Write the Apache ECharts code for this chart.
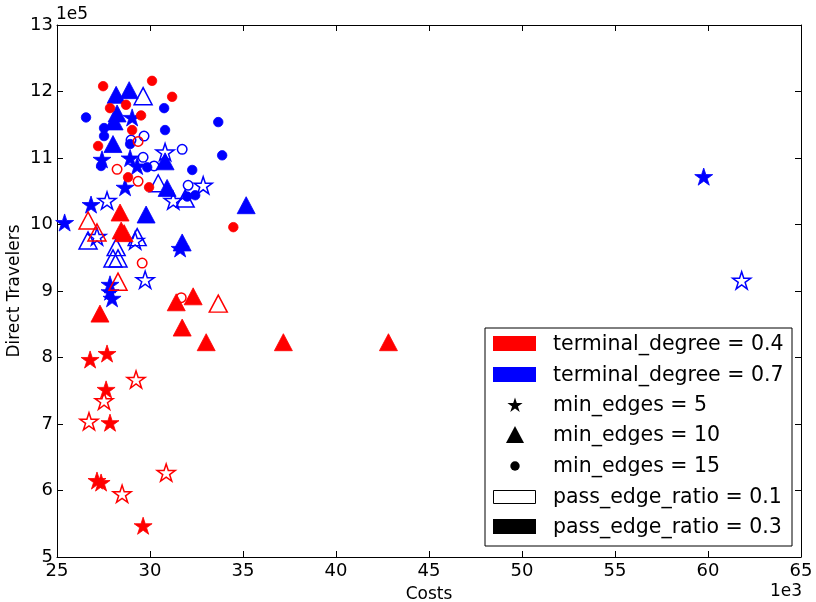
<!DOCTYPE html>
<html>
<head>
<meta charset="utf-8">
<script src="https://cdn.jsdelivr.net/npm/echarts@6/dist/echarts.min.js"></script>
<style>html,body{margin:0;padding:0;background:#fff}#c{width:816px;height:602px}</style>
</head>
<body>
<div id="c"></div>
<script>
// Costs (x, 1e3) and Direct Travelers (y, 1e5)
const red_star_filled = [[26.78,7.97],[27.69,8.06],[27.64,7.52],[27.85,7.02],[27.15,6.15],[27.37,6.12],[29.63,5.47]];
const red_star_hollow = [[29.25,7.67],[27.53,7.35],[26.72,7.04],[30.87,6.27],[28.50,5.95]];
const red_tri_filled = [[28.39,10.18],[28.45,9.91],[28.61,9.87],[27.31,8.66],[31.41,8.83],[32.32,8.92],[31.73,8.45],[33.02,8.23],[37.17,8.23],[42.82,8.23]];
const red_tri_hollow = [[26.67,10.06],[27.15,9.88],[28.28,9.14],[33.67,8.81]];
const red_circ_filled = [[27.48,12.08],[30.11,12.16],[31.19,11.92],[27.85,11.75],[28.71,11.80],[29.52,11.64],[29.04,11.42],[27.21,11.18],[28.82,10.71],[29.95,10.56],[34.48,9.96]];
const red_circ_hollow = [[29.36,11.25],[28.23,10.83],[29.36,10.65],[29.58,9.42],[31.68,8.90]];
const blue_star_filled = [[29.04,11.61],[27.42,10.98],[28.93,11.00],[29.31,10.88],[28.66,10.56],[26.83,10.30],[25.41,10.03],[27.85,9.10],[27.85,8.99],[27.96,8.89],[31.62,9.64],[59.77,10.72]];
const blue_star_hollow = [[30.81,11.09],[32.86,10.59],[31.25,10.36],[27.69,10.36],[29.74,9.17],[27.15,9.82],[29.20,9.76],[61.81,9.16]];
const blue_tri_filled = [[28.18,11.95],[28.88,12.02],[28.23,11.67],[28.07,11.55],[28.01,11.21],[30.81,10.95],[30.92,10.55],[29.79,10.15],[31.73,9.73],[35.17,10.29]];
const blue_tri_hollow = [[29.63,11.93],[30.44,10.62],[31.89,10.39],[26.67,9.76],[28.18,9.66],[28.01,9.49],[28.28,9.49],[29.31,9.81]];
const blue_circ_filled = [[26.56,11.61],[30.76,11.75],[33.67,11.54],[30.81,11.42],[27.53,11.45],[27.53,11.33],[28.93,11.21],[33.88,11.04],[27.37,10.88],[29.85,10.86],[32.27,10.82],[32.43,10.44],[32.00,10.42]];
const blue_circ_hollow = [[29.68,11.33],[28.98,11.27],[31.73,11.13],[29.63,11.01],[30.22,10.88],[32.05,10.59]];

const legendLabels = ['terminal_degree = 0.4','terminal_degree = 0.7','min_edges = 5','min_edges = 10','min_edges = 15','pass_edge_ratio = 0.1','pass_edge_ratio = 0.3'];

const FONT = '"DejaVu Sans"';
function starPts(cx, cy, R){
  let p = [];
  for (let i = 0; i < 10; i++) {
    const r = (i % 2 ? 0.381966 : 1) * R;
    const a = -Math.PI/2 + i*Math.PI/5;
    p.push([cx + r*Math.cos(a), cy + r*Math.sin(a)]);
  }
  return p;
}
const STAR = 'path://M' + starPts(0, 0, 100).map(q => q[0].toFixed(2) + ',' + q[1].toFixed(2)).join('L') + 'Z';
const shapes = {
  star: {symbol: STAR, size: 18},
  tri: {symbol: 'triangle', size: [18,17]},
  circ: {symbol: 'circle', size: 9.5}
};
function mk(data, color, shape, filled){
  return {
    type: 'scatter', data: data, symbol: shapes[shape].symbol, symbolSize: shapes[shape].size,
    symbolKeepAspect: true, silent: true, animation: false,
    itemStyle: filled ? {color: color, borderColor: color, borderWidth: 0.8, opacity: 1} : {color: 'rgba(0,0,0,0)', borderColor: color, borderWidth: 1.5, opacity: 1}
  };
}
const series = [
  mk(blue_circ_filled,'#0000ff','circ',true), mk(blue_circ_hollow,'#0000ff','circ',false),
  mk(blue_tri_filled,'#0000ff','tri',true), mk(blue_tri_hollow,'#0000ff','tri',false),
  mk(blue_star_filled,'#0000ff','star',true), mk(blue_star_hollow,'#0000ff','star',false),
  mk(red_circ_filled,'#ff0000','circ',true), mk(red_circ_hollow,'#ff0000','circ',false),
  mk(red_tri_filled,'#ff0000','tri',true), mk(red_tri_hollow,'#ff0000','tri',false),
  mk(red_star_filled,'#ff0000','star',true), mk(red_star_hollow,'#ff0000','star',false)
];

const axLine = {show: true, onZero: false, lineStyle: {color: '#000', width: 1}};
const axTick = {show: true, inside: true, length: 6, lineStyle: {color: '#000', width: 1}};
const lbl = {color: '#000', fontSize: 18, fontFamily: FONT};

// legend via graphic
const LX = 485, LY = 328, LW = 307, LH = 218;
const rowY = [344, 375, 405, 435, 466, 497, 527];
const g = [{type: 'rect', shape: {x: LX, y: LY, width: LW, height: LH}, style: {fill: '#fff', stroke: '#000', lineWidth: 1}, z: 100}];
const icons = [
  {type: 'rect', shape: {x: 493, y: rowY[0]-8, width: 43, height: 15}, style: {fill: '#ff0000'}},
  {type: 'rect', shape: {x: 493, y: rowY[1]-8, width: 43, height: 15}, style: {fill: '#0000ff'}},
  {type: 'polygon', shape: {points: starPts(515, rowY[2]+0.5, 8)}, style: {fill: '#000'}},
  {type: 'polygon', shape: {points: [[515, rowY[3]-9],[506, rowY[3]+8],[524, rowY[3]+8]]}, style: {fill: '#000'}},
  {type: 'circle', shape: {cx: 515, cy: rowY[4], r: 4.7}, style: {fill: '#000'}},
  {type: 'rect', shape: {x: 493.5, y: rowY[5]-6.5, width: 42, height: 13}, style: {fill: '#fff', stroke: '#000', lineWidth: 1}},
  {type: 'rect', shape: {x: 493, y: rowY[6]-8, width: 43, height: 15}, style: {fill: '#000'}}
];
icons.forEach(ic => { ic.z = 101; g.push(ic); });
legendLabels.forEach((t, i) => {
  g.push({type: 'text', z: 101, style: {x: 553, y: rowY[i] + 1, text: t, fill: '#000', font: '20.5px "DejaVu Sans"', textVerticalAlign: 'middle', verticalAlign: 'middle'}});
});
g.push({type: 'text', z: 101, style: {x: 56, y: 15, text: '1e5', fill: '#000', font: '17px "DejaVu Sans"', verticalAlign: 'middle', textVerticalAlign: 'middle'}});
g.push({type: 'text', z: 101, style: {x: 802, y: 592, text: '1e3', fill: '#000', font: '17px "DejaVu Sans"', align: 'right', textAlign: 'right', verticalAlign: 'middle', textVerticalAlign: 'middle'}});

const option = {
  backgroundColor: '#fff',
  animation: false,
  grid: {left: 57, right: 15, top: 25, bottom: 45, containLabel: false, outerBoundsMode: 'none'},
  xAxis: [
    {type: 'value', min: 25, max: 65, interval: 5, position: 'bottom', axisLine: axLine, axisTick: axTick,
     axisLabel: Object.assign({margin: 5}, lbl), splitLine: {show: false},
     name: 'Costs', nameLocation: 'middle', nameGap: 29, nameMoveOverlap: false, nameTextStyle: {color: '#000', fontSize: 17, fontFamily: FONT}},
    {type: 'value', min: 25, max: 65, interval: 5, position: 'top', axisLine: axLine, axisTick: axTick,
     axisLabel: {show: false}, splitLine: {show: false}}
  ],
  yAxis: [
    {type: 'value', min: 5, max: 13, interval: 1, position: 'left', axisLine: axLine, axisTick: axTick,
     axisLabel: Object.assign({margin: 4}, lbl), splitLine: {show: false},
     name: 'Direct Travelers', nameLocation: 'middle', nameGap: 34, nameMoveOverlap: false, nameRotate: 90, nameTextStyle: {color: '#000', fontSize: 17, fontFamily: FONT}},
    {type: 'value', min: 5, max: 13, interval: 1, position: 'right', axisLine: axLine, axisTick: axTick,
     axisLabel: {show: false}, splitLine: {show: false}}
  ],
  series: series,
  graphic: g
};
const chart = echarts.init(document.getElementById('c'), null, {renderer: 'canvas'});
chart.setOption(option);
</script>
</body>
</html>
